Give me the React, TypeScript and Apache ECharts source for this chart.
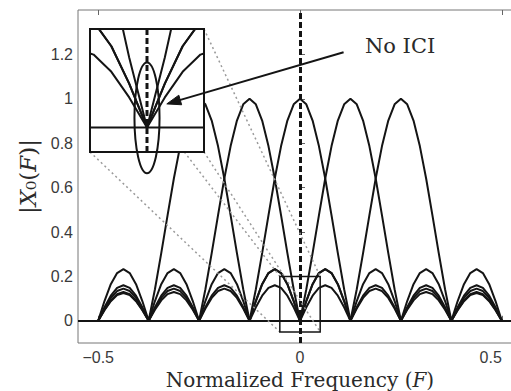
import React, { useEffect, useRef } from 'react';
import * as echarts from 'echarts';

// Normalized frequency sample grid (F)
const freq = [
  -0.5, -0.484375, -0.46875, -0.453125, -0.4375, -0.421875, -0.40625, -0.390625,
  -0.375, -0.359375, -0.34375, -0.328125, -0.3125, -0.296875, -0.28125, -0.265625,
  -0.25, -0.234375, -0.21875, -0.203125, -0.1875, -0.171875, -0.15625, -0.140625,
  -0.125, -0.109375, -0.09375, -0.078125, -0.0625, -0.046875, -0.03125, -0.015625,
  0, 0.015625, 0.03125, 0.046875, 0.0625, 0.078125, 0.09375, 0.109375,
  0.125, 0.140625, 0.15625, 0.171875, 0.1875, 0.203125, 0.21875, 0.234375,
  0.25, 0.265625, 0.28125, 0.296875, 0.3125, 0.328125, 0.34375, 0.359375,
  0.375, 0.390625, 0.40625, 0.421875, 0.4375, 0.453125, 0.46875, 0.484375,
  0.5,
];

// |X(F)| of the subcarrier centred at F = -0.25
const subcarrierM250 = [
  0, 0.089, 0.165, 0.215, 0.233, 0.215, 0.165, 0.089,
  0, 0.142, 0.305, 0.475, 0.641, 0.787, 0.902, 0.975,
  1, 0.975, 0.902, 0.787, 0.641, 0.475, 0.305, 0.142,
  0, 0.089, 0.165, 0.215, 0.233, 0.215, 0.165, 0.089,
  0, 0.061, 0.113, 0.148, 0.16, 0.148, 0.113, 0.061,
  0, 0.055, 0.103, 0.134, 0.145, 0.134, 0.103, 0.055,
  0, 0.05, 0.092, 0.12, 0.13, 0.12, 0.092, 0.05,
  0, 0.048, 0.088, 0.116, 0.125, 0.116, 0.088, 0.048,
  0,
];
// centred at F = -0.125
const subcarrierM125 = [
  0, 0.061, 0.113, 0.148, 0.16, 0.148, 0.113, 0.061,
  0, 0.089, 0.165, 0.215, 0.233, 0.215, 0.165, 0.089,
  0, 0.142, 0.305, 0.475, 0.641, 0.787, 0.902, 0.975,
  1, 0.975, 0.902, 0.787, 0.641, 0.475, 0.305, 0.142,
  0, 0.089, 0.165, 0.215, 0.233, 0.215, 0.165, 0.089,
  0, 0.061, 0.113, 0.148, 0.16, 0.148, 0.113, 0.061,
  0, 0.055, 0.103, 0.134, 0.145, 0.134, 0.103, 0.055,
  0, 0.05, 0.092, 0.12, 0.13, 0.12, 0.092, 0.05,
  0,
];
// centred at F = 0
const subcarrier000 = [
  0, 0.055, 0.103, 0.134, 0.145, 0.134, 0.103, 0.055,
  0, 0.061, 0.113, 0.148, 0.16, 0.148, 0.113, 0.061,
  0, 0.089, 0.165, 0.215, 0.233, 0.215, 0.165, 0.089,
  0, 0.142, 0.305, 0.475, 0.641, 0.787, 0.902, 0.975,
  1, 0.975, 0.902, 0.787, 0.641, 0.475, 0.305, 0.142,
  0, 0.089, 0.165, 0.215, 0.233, 0.215, 0.165, 0.089,
  0, 0.061, 0.113, 0.148, 0.16, 0.148, 0.113, 0.061,
  0, 0.055, 0.103, 0.134, 0.145, 0.134, 0.103, 0.055,
  0,
];
// centred at F = 0.125
const subcarrierP125 = [
  0, 0.05, 0.092, 0.12, 0.13, 0.12, 0.092, 0.05,
  0, 0.055, 0.103, 0.134, 0.145, 0.134, 0.103, 0.055,
  0, 0.061, 0.113, 0.148, 0.16, 0.148, 0.113, 0.061,
  0, 0.089, 0.165, 0.215, 0.233, 0.215, 0.165, 0.089,
  0, 0.142, 0.305, 0.475, 0.641, 0.787, 0.902, 0.975,
  1, 0.975, 0.902, 0.787, 0.641, 0.475, 0.305, 0.142,
  0, 0.089, 0.165, 0.215, 0.233, 0.215, 0.165, 0.089,
  0, 0.061, 0.113, 0.148, 0.16, 0.148, 0.113, 0.061,
  0,
];
// centred at F = 0.25
const subcarrierP250 = [
  0, 0.048, 0.088, 0.116, 0.125, 0.116, 0.088, 0.048,
  0, 0.05, 0.092, 0.12, 0.13, 0.12, 0.092, 0.05,
  0, 0.055, 0.103, 0.134, 0.145, 0.134, 0.103, 0.055,
  0, 0.061, 0.113, 0.148, 0.16, 0.148, 0.113, 0.061,
  0, 0.089, 0.165, 0.215, 0.233, 0.215, 0.165, 0.089,
  0, 0.142, 0.305, 0.475, 0.641, 0.787, 0.902, 0.975,
  1, 0.975, 0.902, 0.787, 0.641, 0.475, 0.305, 0.142,
  0, 0.089, 0.165, 0.215, 0.233, 0.215, 0.165, 0.089,
  0,
];

const subcarriers = [subcarrierM250, subcarrierM125, subcarrier000, subcarrierP125, subcarrierP250];

const xTicks = [-0.5, 0, 0.5];
const yTicks = [0, 0.2, 0.4, 0.6, 0.8, 1, 1.2];
const xRange = [-0.55, 0.55];
const yRange = [-0.1, 1.4];

// zoomed region [x0, x1, y0, y1] (also the inset's axis ranges)
const zoomRegion = [-0.05, 0.05, -0.05, 0.2];
// ellipse in inset coordinates [x0, x1, y0, y1]
const ellipseRegion = [-0.011, 0.011, -0.093, 0.132];
// annotation
const noteText = 'No ICI';
const notePos = [0.248, 1.238];
const arrowFrom = [0.108, 1.21];
const arrowTo = [-0.33, 0.977];

const INK = '#141414';

export default function App() {
  const ref = useRef<HTMLDivElement>(null);

  useEffect(() => {
    const chart = echarts.init(ref.current!, null, { renderer: 'svg' });

    const mainSeries = subcarriers.map((vals, i) => ({
      type: 'line',
      xAxisIndex: 0,
      yAxisIndex: 0,
      data: freq.map((f, j) => [f, vals[j]]),
      symbol: 'none',
      silent: true,
      z: 2,
      lineStyle: { color: INK, width: 2 },
      markLine:
        i === 0
          ? {
              silent: true,
              symbol: ['none', 'none'],
              label: { show: false },
              data: [
                { xAxis: 0, lineStyle: { type: [6, 3], width: 3, color: INK } },
                { yAxis: 0, lineStyle: { type: 'solid', width: 2, color: INK } },
              ],
            }
          : undefined,
    }));

    const insetSeries: any[] = subcarriers.map((vals) => ({
      type: 'line',
      xAxisIndex: 1,
      yAxisIndex: 1,
      data: freq.map((f, j) => [f, vals[j]]),
      symbol: 'none',
      silent: true,
      z: 12,
      clip: true,
      lineStyle: { color: INK, width: 2 },
    }));
    insetSeries.push({
      type: 'line',
      xAxisIndex: 1,
      yAxisIndex: 1,
      data: [[0, zoomRegion[2]], [0, zoomRegion[3]]],
      symbol: 'none',
      silent: true,
      z: 13,
      lineStyle: { color: INK, width: 3, type: [6, 3] },
    });
    insetSeries.push({
      type: 'line',
      xAxisIndex: 1,
      yAxisIndex: 1,
      data: [[zoomRegion[0], 0], [zoomRegion[1], 0]],
      symbol: 'none',
      silent: true,
      z: 13,
      lineStyle: { color: INK, width: 2 },
    });

    const tickFont = { fontFamily: 'Liberation Sans, Arial, sans-serif', fontSize: 16, color: '#3a3a3a' };

    chart.setOption({
      animation: false,
      backgroundColor: '#ffffff',
      grid: [
        {
          left: 78,
          top: 10,
          width: 444,
          height: 333,
          outerBoundsMode: 'none',
          containLabel: false,
          show: true,
          borderColor: '#777',
          borderWidth: 1,
          backgroundColor: 'transparent',
        },
        {
          left: 90,
          top: 29,
          width: 114,
          height: 123,
          outerBoundsMode: 'none',
          containLabel: false,
          show: true,
          backgroundColor: '#ffffff',
          borderColor: INK,
          borderWidth: 2,
          z: 10,
        },
      ],
      xAxis: [
        {
          gridIndex: 0,
          type: 'value',
          min: xRange[0],
          max: xRange[1],
          axisLine: { show: false },
          splitLine: { show: false },
          axisTick: { inside: true, length: 5, lineStyle: { color: '#666' }, customValues: xTicks },
          axisLabel: {
            ...tickFont,
            margin: 6,
            customValues: xTicks,
            alignMaxLabel: 'right',
            formatter: (v: number) => (v < 0 ? '\u2212' + Math.abs(v) : String(v)),
          },
          name: 'Normalized Frequency ({i|F})',
          nameLocation: 'middle',
          nameGap: 22,
          nameTextStyle: {
            fontFamily: 'DejaVu Serif',
            fontSize: 20,
            color: '#2a2a2a',
            rich: { i: { fontFamily: 'DejaVu Serif', fontStyle: 'italic', fontSize: 20, color: '#2a2a2a' } },
          },
        },
        {
          gridIndex: 1,
          type: 'value',
          min: zoomRegion[0],
          max: zoomRegion[1],
          show: false,
        },
        {
          gridIndex: 0,
          type: 'value',
          position: 'top',
          min: xRange[0],
          max: xRange[1],
          axisLine: { show: false },
          splitLine: { show: false },
          axisLabel: { show: false },
          axisTick: { inside: true, length: 5, lineStyle: { color: '#666' }, customValues: xTicks },
        },
      ],
      yAxis: [
        {
          gridIndex: 0,
          type: 'value',
          min: yRange[0],
          max: yRange[1],
          axisLine: { show: false },
          splitLine: { show: false },
          axisTick: { inside: true, length: 5, lineStyle: { color: '#666' }, customValues: yTicks },
          axisLabel: { ...tickFont, margin: 5, customValues: yTicks, formatter: (v: number) => String(v) },
          name: '|{i|X}\u2080({i|F})|',
          nameLocation: 'middle',
          nameRotate: 90,
          nameGap: 38,
          nameTextStyle: {
            fontFamily: 'DejaVu Serif',
            fontSize: 23,
            color: '#2a2a2a',
            rich: { i: { fontFamily: 'DejaVu Serif', fontStyle: 'italic', fontSize: 23, color: '#2a2a2a' } },
          },
        },
        {
          gridIndex: 1,
          type: 'value',
          min: zoomRegion[2],
          max: zoomRegion[3],
          show: false,
        },
      ],
      series: [...mainSeries, ...insetSeries],
    });

    const p = (x: number, y: number) => chart.convertToPixel({ xAxisIndex: 0, yAxisIndex: 0 } as any, [x, y]) as number[];
    const q = (x: number, y: number) => chart.convertToPixel({ xAxisIndex: 1, yAxisIndex: 1 } as any, [x, y]) as number[];

    const [zx0, zx1, zy0, zy1] = zoomRegion;
    const corners = [
      [zx0, zy1],
      [zx1, zy1],
      [zx0, zy0],
      [zx1, zy0],
    ];
    const graphics: any[] = [];
    corners.forEach(([cx, cy]) => {
      const a = q(cx, cy);
      const b = p(cx, cy);
      graphics.push({
        type: 'line',
        silent: true,
        z: 5,
        shape: { x1: a[0], y1: a[1], x2: b[0], y2: b[1] },
        style: { stroke: '#9a9a9a', lineWidth: 1.5, lineDash: [2, 3] },
      });
    });
    const r0 = p(zx0, zy1);
    const r1 = p(zx1, zy0);
    graphics.push({
      type: 'rect',
      silent: true,
      z: 6,
      shape: { x: r0[0], y: r0[1], width: r1[0] - r0[0], height: r1[1] - r0[1] },
      style: { fill: 'none', stroke: INK, lineWidth: 1.5 },
    });
    const e0 = q(ellipseRegion[0], ellipseRegion[3]);
    const e1 = q(ellipseRegion[1], ellipseRegion[2]);
    graphics.push({
      type: 'ellipse',
      silent: true,
      z: 20,
      shape: { cx: (e0[0] + e1[0]) / 2, cy: (e0[1] + e1[1]) / 2, rx: (e1[0] - e0[0]) / 2, ry: (e1[1] - e0[1]) / 2 },
      style: { fill: 'none', stroke: INK, lineWidth: 2 },
    });
    const a0 = p(arrowFrom[0], arrowFrom[1]);
    const a1 = p(arrowTo[0], arrowTo[1]);
    const dx = a1[0] - a0[0];
    const dy = a1[1] - a0[1];
    const len = Math.hypot(dx, dy);
    const ux = dx / len;
    const uy = dy / len;
    const headL = 14;
    const headW = 5;
    graphics.push({
      type: 'line',
      silent: true,
      z: 20,
      shape: { x1: a0[0], y1: a0[1], x2: a1[0] - ux * 8, y2: a1[1] - uy * 8 },
      style: { stroke: INK, lineWidth: 2 },
    });
    graphics.push({
      type: 'polygon',
      silent: true,
      z: 20,
      shape: {
        points: [
          [a1[0], a1[1]],
          [a1[0] - ux * headL - uy * headW, a1[1] - uy * headL + ux * headW],
          [a1[0] - ux * headL + uy * headW, a1[1] - uy * headL - ux * headW],
        ],
      },
      style: { fill: INK, stroke: INK, lineWidth: 1 },
    });
    const t = p(notePos[0], notePos[1]);
    graphics.push({
      type: 'text',
      silent: true,
      z: 20,
      x: t[0],
      y: t[1],
      style: {
        text: noteText,
        fontFamily: 'DejaVu Serif',
        fontSize: 21,
        fill: '#2a2a2a',
        align: 'center',
        verticalAlign: 'middle',
      },
    });

    chart.setOption({ graphic: graphics });

    return () => chart.dispose();
  }, []);

  return (
    <div
      style={{ position: 'fixed', left: 0, top: 0, width: 511, height: 391, overflow: 'hidden', background: '#fff' }}
    >
      <div ref={ref} style={{ width: 511, height: 391 }} />
    </div>
  );
}
